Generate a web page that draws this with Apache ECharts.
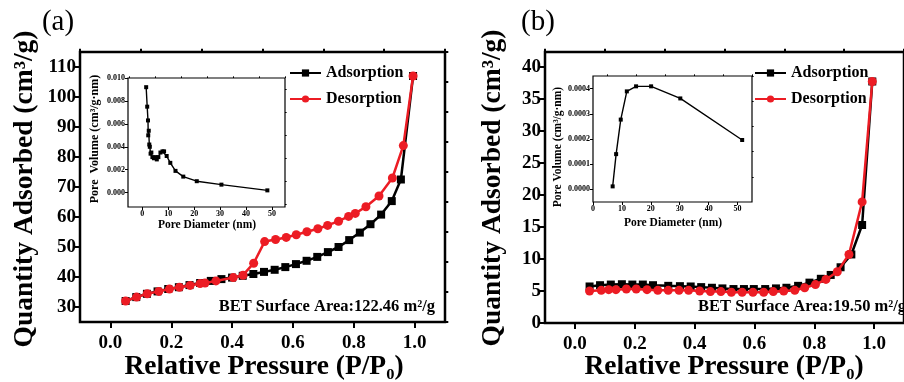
<!DOCTYPE html>
<html>
<head>
<meta charset="utf-8">
<script src="https://cdn.jsdelivr.net/npm/echarts@6/dist/echarts.min.js"></script>
<style>
  html, body { margin: 0; padding: 0; background: #fff; }
  #chart { width: 904px; height: 382px; }
</style>
</head>
<body>
<div id="chart"></div>
<script>
// ---- Sample (a): N2 isotherm ----
const pressureAdsA = [0.05, 0.085, 0.12, 0.155, 0.19, 0.225, 0.26, 0.295, 0.33, 0.365, 0.40, 0.435, 0.47, 0.505,
  0.54, 0.575, 0.61, 0.645, 0.68, 0.715, 0.75, 0.785, 0.82, 0.855, 0.89, 0.925, 0.955, 0.995];
const adsorbedA = [32.0, 33.3, 34.4, 35.2, 36.0, 36.6, 37.3, 38.0, 38.7, 39.3, 39.8, 40.4, 41.0, 41.7,
  42.4, 43.3, 44.3, 45.4, 46.7, 48.3, 50.0, 52.3, 54.8, 57.6, 60.8, 65.3, 72.5, 107.0];
const pressureDesA = [0.05, 0.086, 0.121, 0.159, 0.194, 0.227, 0.262, 0.295, 0.311, 0.347, 0.404, 0.436, 0.471, 0.507,
  0.543, 0.578, 0.611, 0.646, 0.682, 0.714, 0.75, 0.783, 0.805, 0.84, 0.883, 0.927, 0.963, 0.995];
const desorbedA = [32.0, 33.3, 34.4, 35.2, 36.0, 36.6, 37.2, 37.8, 38.0, 38.7, 39.8, 40.6, 44.6, 51.8,
  52.5, 53.2, 54.1, 55.1, 56.1, 57.2, 58.6, 60.2, 61.2, 63.4, 67.0, 73.0, 83.8, 107.0];
// pore size distribution (a)
const poreDiamA = [1.5, 1.9, 2.2, 2.3, 2.5, 2.7, 2.9, 3.2, 3.5, 3.9, 4.5, 5.1, 5.6, 6.2, 7.0, 7.8, 8.4,
  9.4, 10.8, 12.8, 15.8, 21.0, 30.5, 48.2];
const poreVolA = [0.0092, 0.0075, 0.0063, 0.0050, 0.0054, 0.0042, 0.0040, 0.0034, 0.0035, 0.0031, 0.0030,
  0.0031, 0.0029, 0.0031, 0.0035, 0.0036, 0.0036, 0.0032, 0.0026, 0.0019, 0.0014, 0.0010, 0.0007, 0.0002];

// ---- Sample (b): N2 isotherm ----
const pressureAdsB = [0.049, 0.084, 0.12, 0.157, 0.192, 0.227, 0.261, 0.312, 0.351, 0.387, 0.422, 0.458, 0.493,
  0.53, 0.565, 0.598, 0.636, 0.672, 0.707, 0.746, 0.784, 0.822, 0.855, 0.888, 0.924, 0.96, 0.994];
const adsorbedB = [5.7, 5.9, 6.0, 6.05, 6.0, 6.0, 5.9, 5.8, 5.75, 5.7, 5.6, 5.5, 5.4,
  5.3, 5.3, 5.3, 5.3, 5.4, 5.5, 5.8, 6.3, 6.9, 7.5, 8.7, 10.7, 15.3, 37.7];
const pressureDesB = [0.049, 0.088, 0.113, 0.137, 0.172, 0.205, 0.241, 0.277, 0.312, 0.348, 0.38, 0.417, 0.453,
  0.488, 0.523, 0.559, 0.595, 0.631, 0.663, 0.698, 0.735, 0.768, 0.804, 0.839, 0.877, 0.916, 0.96, 0.994];
const desorbedB = [5.0, 5.1, 5.2, 5.2, 5.3, 5.3, 5.2, 5.1, 5.1, 5.1, 5.1, 5.0, 4.9,
  4.9, 4.8, 4.8, 4.8, 4.8, 4.9, 5.0, 5.1, 5.5, 6.0, 6.8, 8.0, 10.7, 18.9, 37.7];
// pore size distribution (b)
const poreDiamB = [6.8, 8.0, 9.6, 11.7, 14.9, 20.1, 30.2, 51.6];
const poreVolB = [0.000012, 0.00014, 0.000277, 0.000389, 0.000409, 0.000409, 0.000361, 0.000196];

// ---- Tick values ----
const pressureTicks = [0, 0.2, 0.4, 0.6, 0.8, 1.0];
const pressureMinor = [-0.1, 0.1, 0.3, 0.5, 0.7, 0.9, 1.1];
const adsTicksA = [30, 40, 50, 60, 70, 80, 90, 100, 110];
const adsMinorA = [25, 35, 45, 55, 65, 75, 85, 95, 105, 115];
const adsTicksB = [0, 5, 10, 15, 20, 25, 30, 35, 40];
const adsMinorB = [2.5, 7.5, 12.5, 17.5, 22.5, 27.5, 32.5, 37.5];
const diamTicks = [0, 10, 20, 30, 40, 50];
const diamMinorA = [-5, 5, 15, 25, 35, 45, 55];
const diamMinorB = [5, 15, 25, 35, 45, 55];
const volTicksA = [0, 0.002, 0.004, 0.006, 0.008, 0.010];
const volMinorA = [-0.001, 0.001, 0.003, 0.005, 0.007, 0.009];
const volTicksB = [0, 0.0001, 0.0002, 0.0003, 0.0004];
const volMinorB = [0.00005, 0.00015, 0.00025, 0.00035, 0.00045];

const SERIF = '"Liberation Serif", "Times New Roman", serif';
const RED = '#ec1c24';

const zip = (xs, ys) => xs.map((x, i) => [x, ys[i]]);

// Builds a labelled axis plus a companion axis that only carries the short minor ticks.
function axisPair(gridIndex, min, max, majors, minors, o) {
  const major = {
    type: 'value', gridIndex, min, max,
    axisLine: { show: false, onZero: false }, splitLine: { show: false },
    axisTick: { show: true, inside: false, customValues: majors, length: o.tickLen,
      lineStyle: { color: '#000', width: o.tickWidth } },
    axisLabel: { show: true, customValues: majors, formatter: o.fmt, margin: o.margin,
      color: '#000', fontFamily: SERIF, fontWeight: 'bold', fontSize: o.fontSize }
  };
  const minor = {
    type: 'value', gridIndex, min, max,
    axisLine: { show: false, onZero: false }, splitLine: { show: false },
    axisTick: { show: true, inside: false, customValues: minors, length: o.tickLen * 0.55,
      lineStyle: { color: '#000', width: o.tickWidth } },
    axisLabel: { show: false }
  };
  return [major, minor];
}

const mainX = { tickLen: 6, tickWidth: 2, margin: 12, fontSize: 19, fmt: v => v.toFixed(1) };
const mainY = { tickLen: 6, tickWidth: 2, margin: 4, fontSize: 19, fmt: v => String(v) };
const insetX = { tickLen: 3, tickWidth: 1, margin: 3, fontSize: 8, fmt: v => String(v) };
const insetYA = { tickLen: 3, tickWidth: 1, margin: 3, fontSize: 8, fmt: v => v.toFixed(3) };
const insetYB = { tickLen: 3, tickWidth: 1, margin: 3, fontSize: 8, fmt: v => v.toFixed(4) };

const grids = [
  { left: 80, top: 52, width: 365, height: 270 },   // 0: main (a)
  { left: 128, top: 78, width: 157, height: 129 },  // 1: inset (a)
  { left: 545, top: 52, width: 365, height: 271 },  // 2: main (b)
  { left: 593, top: 76, width: 159, height: 126 }   // 3: inset (b)
].map((g, i) => Object.assign({
  show: true, borderColor: '#000', borderWidth: (i % 2 === 0) ? 2.5 : 1.2,
  backgroundColor: 'transparent', containLabel: false
}, g));

const xAxes = [
  ...axisPair(0, -0.1, 1.1, pressureTicks, pressureMinor, mainX),   // 0,1
  ...axisPair(1, -5.5, 55, diamTicks, diamMinorA, insetX),          // 2,3
  ...axisPair(2, -0.1, 1.1, pressureTicks, pressureMinor, mainX),   // 4,5
  ...axisPair(3, 0, 55, diamTicks, diamMinorB, insetX)              // 6,7
];
const yAxes = [
  ...axisPair(0, 25, 115, adsTicksA, adsMinorA, mainY),             // 0,1
  ...axisPair(1, -0.00125, 0.010, volTicksA, volMinorA, insetYA),   // 2,3
  ...axisPair(2, 0, 42.3, adsTicksB, adsMinorB, mainY),             // 4,5
  ...axisPair(3, -0.00005, 0.00045, volTicksB, volMinorB, insetYB)  // 6,7
];

function isoSeries(name, data, xi, yi, isDes) {
  return {
    name, type: 'line', xAxisIndex: xi, yAxisIndex: yi, data,
    symbol: isDes ? 'circle' : 'rect', symbolSize: isDes ? 9 : 8,
    showSymbol: true, animation: false, z: isDes ? 4 : 3,
    lineStyle: { color: isDes ? RED : '#000', width: 2.5 },
    itemStyle: { color: isDes ? RED : '#000' }
  };
}
function poreSeries(data, xi, yi) {
  return {
    type: 'line', xAxisIndex: xi, yAxisIndex: yi, data,
    symbol: 'rect', symbolSize: 4, animation: false,
    lineStyle: { color: '#000', width: 1.4 }, itemStyle: { color: '#000' }
  };
}

const series = [
  isoSeries('Adsorption', zip(pressureAdsA, adsorbedA), 0, 0, false),
  isoSeries('Desorption', zip(pressureDesA, desorbedA), 0, 0, true),
  poreSeries(zip(poreDiamA, poreVolA), 2, 2),
  isoSeries('Adsorption', zip(pressureAdsB, adsorbedB), 4, 4, false),
  isoSeries('Desorption', zip(pressureDesB, desorbedB), 4, 4, true),
  poreSeries(zip(poreDiamB, poreVolB), 6, 6)
];

function legendAt(left) {
  return {
    data: ['Adsorption', 'Desorption'], orient: 'vertical', left, top: 60,
    itemWidth: 31, itemHeight: 9, itemGap: 10, selectedMode: false,
    textStyle: { fontFamily: SERIF, fontWeight: 'bold', fontSize: 16, color: '#000', lineHeight: 16 }
  };
}

function label(text, x, y, size, opts) {
  opts = opts || {};
  const weight = opts.weight || 'bold';
  return {
    type: 'text', x, y, rotation: opts.rotate ? Math.PI / 2 : 0, silent: true,
    style: {
      text, fill: '#000',
      font: weight + ' ' + size + 'px ' + SERIF,
      textAlign: opts.align || 'center', textVerticalAlign: 'middle',
      align: opts.align || 'center', verticalAlign: 'middle'
    }
  };
}

const graphics = [
  label('(a)', 58, 22, 29, { weight: 'normal' }),
  label('(b)', 538, 22, 29, { weight: 'normal' }),
  label('Quantity Adsorbed (cm³/g)', 25, 189, 27.5, { rotate: true }),
  label('Quantity Adsorbed (cm³/g)', 493, 188, 27.5, { rotate: true }),
  label('Relative Pressure (P/P₀)', 264, 367, 27.5),
  label('Relative Pressure (P/P₀)', 724, 367, 27.5),
  label('BET Surface Area:122.46 m²/g', 435, 307, 16.5, { align: 'right' }),
  label('BET Surface Area:19.50 m²/g', 698, 307, 16.5, { align: 'left' }),
  label('Pore  Volume (cm³/g·nm)', 95, 139, 12, { rotate: true }),
  label('Pore Volume (cm³/g·nm)', 558, 147, 11.5, { rotate: true }),
  label('Pore Diameter (nm)', 207, 225, 11.5),
  label('Pore Diameter (nm)', 673, 223, 11.5)
];

const chart = echarts.init(document.getElementById('chart'), null, { renderer: 'canvas' });
chart.setOption({
  backgroundColor: '#fff',
  animation: false,
  grid: grids,
  xAxis: xAxes,
  yAxis: yAxes,
  legend: [legendAt(284), legendAt(749)],
  series,
  graphic: graphics
});
</script>
</body>
</html>
